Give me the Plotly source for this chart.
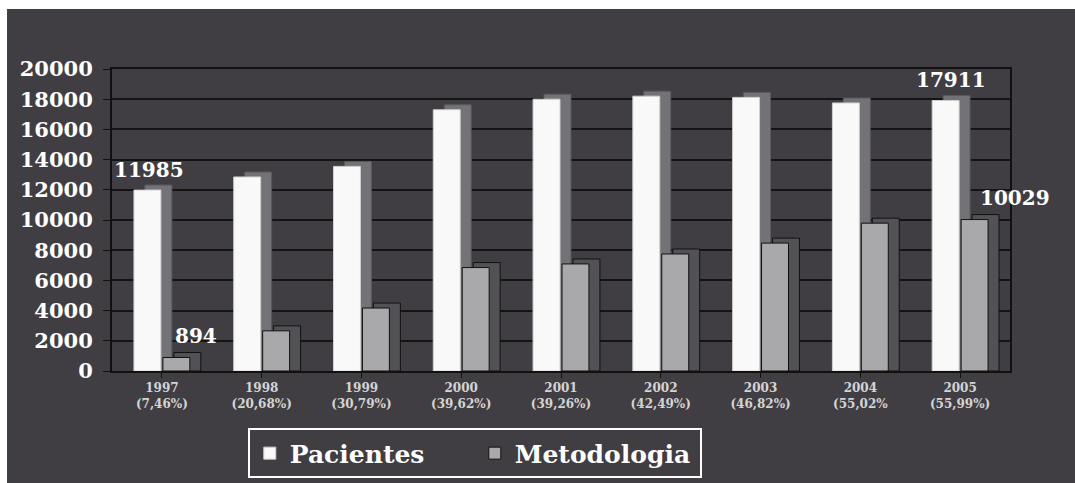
import plotly.graph_objects as go

years = ["1997", "1998", "1999", "2000", "2001", "2002", "2003", "2004", "2005"]
pct_labels = ["(7,46%)", "(20,68%)", "(30,79%)", "(39,62%)", "(39,26%)",
              "(42,49%)", "(46,82%)", "(55,02%", "(55,99%)"]
pacientes = [11985, 12850, 13550, 17300, 18000, 18200, 18120, 17750, 17911]
metodologia = [894, 2660, 4170, 6850, 7090, 7750, 8470, 9790, 10029]
y_ticks = [0, 2000, 4000, 6000, 8000, 10000, 12000, 14000, 16000, 18000, 20000]

BG = "#403e43"
SERIF = "DejaVu Serif"
x = list(range(len(years)))
ticktext = [f"{y}<br>{p}" for y, p in zip(years, pct_labels)]

W = 0.27          # bar width in category units
DX = 0.11         # depth offset (x)
DY = 330          # depth offset (y, data units)

fig = go.Figure()
# depth (side/top) faces drawn behind the front faces
fig.add_trace(go.Bar(x=x, y=[v + DY for v in pacientes], width=W, offset=-0.28 + DX,
                     marker=dict(color="#737276", line=dict(color="#5a595d", width=1)),
                     showlegend=False, hoverinfo="skip"))
fig.add_trace(go.Bar(x=x, y=pacientes, name="Pacientes", width=W, offset=-0.28,
                     marker=dict(color="#f9f9f9", line=dict(color="#d0d0d0", width=1))))
fig.add_trace(go.Bar(x=x, y=[v + DY for v in metodologia], width=W, offset=0.01 + DX,
                     marker=dict(color="#525156", line=dict(color="#111111", width=1)),
                     showlegend=False, hoverinfo="skip"))
fig.add_trace(go.Bar(x=x, y=metodologia, name="Metodologia", width=W, offset=0.01,
                     marker=dict(color="#a9a9ac", line=dict(color="#111111", width=1))))

annots = [
    dict(x=x[0] - 0.145, y=pacientes[0], text=str(pacientes[0]), xshift=2, yshift=6),
    dict(x=x[0] + 0.145, y=metodologia[0], text=str(metodologia[0]), xshift=20, yshift=8),
    dict(x=x[-1] - 0.145, y=pacientes[-1], text=str(pacientes[-1]), xshift=5, yshift=7),
    dict(x=x[-1] + 0.145, y=metodologia[-1], text=str(metodologia[-1]), xshift=40, yshift=8),
]
for a in annots:
    a.update(xref="x", yref="y", showarrow=False, yanchor="bottom",
             font=dict(family=SERIF, size=20, color="white", weight="bold"))

fig.update_layout(
    width=1075, height=483,
    margin=dict(l=112, r=65, t=69, b=112, autoexpand=False),
    paper_bgcolor=BG, plot_bgcolor=BG,
    barmode="overlay",
    annotations=annots,
    shapes=[
        dict(type="rect", xref="paper", yref="paper", x0=-0.2, x1=1.2,
             y0=1.1987, y1=1.4, fillcolor="white", line=dict(width=0), layer="above"),
        dict(type="rect", xref="paper", yref="paper", x0=-0.2, x1=-0.1169,
             y0=-0.5, y1=1.4, fillcolor="white", line=dict(width=0), layer="above"),
    ],
    legend=dict(orientation="h", x=0.404, xanchor="center", y=-0.19, yanchor="top",
                bgcolor=BG, bordercolor="white", borderwidth=2,
                font=dict(family=SERIF, size=25, color="white", weight="bold"),
                itemwidth=30, entrywidth=180, traceorder="normal"),
    xaxis=dict(range=[-0.5, 8.5], tickvals=x, ticktext=ticktext,
               tickfont=dict(family=SERIF, size=12, color="#d4d4d4", weight="bold"),
               showgrid=False, zeroline=False, showline=True, linecolor="#111111",
               linewidth=2, mirror=True, ticks="outside", ticklen=5, tickcolor="#111111"),
    yaxis=dict(range=[0, 20000], tickvals=y_ticks, ticktext=[str(v) for v in y_ticks],
               tickfont=dict(family=SERIF, size=21, color="white", weight="bold"),
               showgrid=True, gridcolor="#141414", gridwidth=2, zeroline=False,
               showline=True, linecolor="#111111", linewidth=2, mirror=True,
               ticks="outside", ticklen=7, tickcolor="#111111", ticklabelstandoff=6),
)

fig.write_html("out.html")
